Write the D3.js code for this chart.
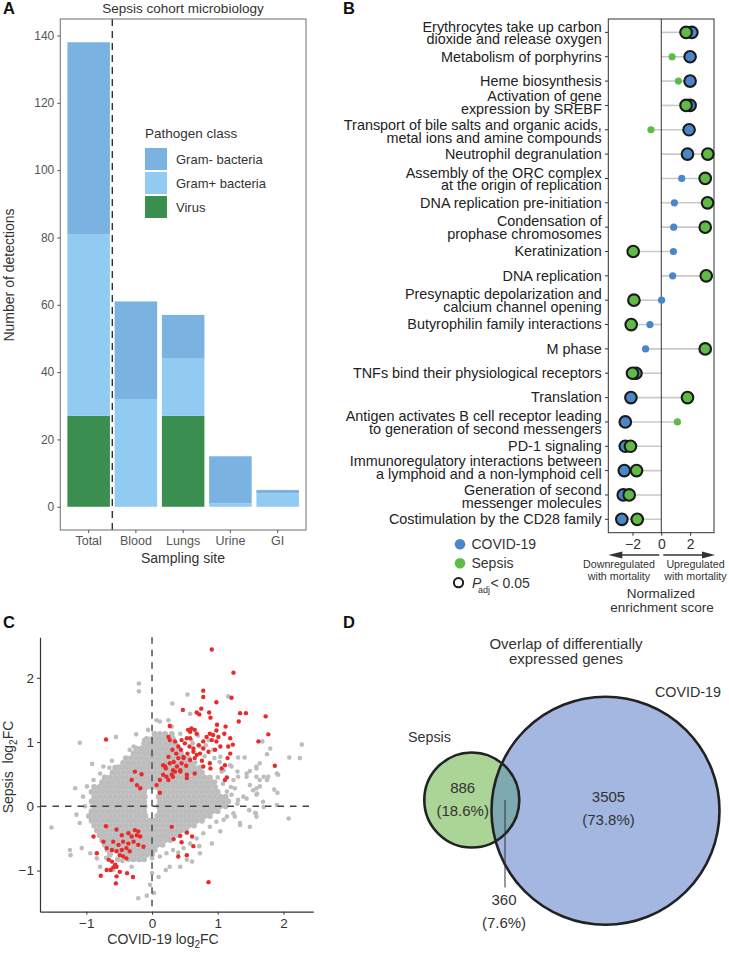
<!DOCTYPE html>
<html><head><meta charset="utf-8">
<script src="https://cdn.jsdelivr.net/npm/d3@7"></script>
<style>body{margin:0;background:#fff}svg{display:block}text{font-family:"Liberation Sans",Arial,Helvetica,sans-serif}</style>
</head><body><svg id="c" width="729" height="975"></svg>
<script>
// ---------- Panel A data ----------
const sites = ["Total","Blood","Lungs","Urine","GI"];
const virus = [27,0,27,0,0];
const gramPos = [54,32,17,1,4];
const gramNeg = [57,29,13,14,1];
const yTicksA = [0,20,40,60,80,100,120,140];
const pathogenClasses = ["Gram- bacteria","Gram+ bacteria","Virus"];

// ---------- Panel B data ----------
const pathways = [
 ["Erythrocytes take up carbon","dioxide and release oxygen"],
 ["Metabolism of porphyrins"],
 ["Heme biosynthesis"],
 ["Activation of gene","expression by SREBF"],
 ["Transport of bile salts and organic acids,","metal ions and amine compounds"],
 ["Neutrophil degranulation"],
 ["Assembly of the ORC complex","at the origin of replication"],
 ["DNA replication pre-initiation"],
 ["Condensation of","prophase chromosomes"],
 ["Keratinization"],
 ["DNA replication"],
 ["Presynaptic depolarization and","calcium channel opening"],
 ["Butyrophilin family interactions"],
 ["M phase"],
 ["TNFs bind their physiological receptors"],
 ["Translation"],
 ["Antigen activates B cell receptor leading","to generation of second messengers"],
 ["PD-1 signaling"],
 ["Immunoregulatory interactions between","a lymphoid and a non-lymphoid cell"],
 ["Generation of second","messenger molecules"],
 ["Costimulation by the CD28 family"]
];
const covidNES  = [2.12,2.0,2.0,2.0,1.93,1.82,1.42,0.91,0.86,0.84,0.79,0.02,-0.79,-1.09,-1.76,-2.11,-2.5,-2.5,-2.57,-2.64,-2.74];
const covidSig  = [1,1,1,1,1,1,0,0,0,0,0,0,0,0,1,1,1,1,1,1,1];
const sepsisNES = [1.72,0.75,1.19,1.72,-0.72,3.23,3.05,3.21,3.05,-1.95,3.12,-1.9,-2.09,3.05,-2.0,1.82,1.12,-2.14,-1.72,-2.23,-1.67];
const sepsisSig = [1,0,0,1,0,1,1,1,1,1,1,1,1,1,1,1,0,1,1,1,1];
const xTicksB = [-2,0,2];

// ---------- Panel C data ----------
const xTicksC = [-1,0,1,2];
const yTicksC = [-1,0,1,2];
const greyRows = [
 [1.125,[0.04,0.12,0.2,0.3]],
 [1.05,[-0.08,0,0.08,0.16,0.24,0.32]],
 [0.975,[-0.12,-0.04,0.04,0.12,0.2,0.28,0.36]],
 [0.9,[-0.24,-0.16,-0.08,0,0.08,0.16,0.24,0.32,0.4]],
 [0.825,[-0.28,-0.2,-0.12,-0.04,0.04,0.12,0.2,0.28,0.36,0.44]],
 [0.75,[-0.4,-0.32,-0.24,-0.16,-0.08,0,0.08,0.16,0.24,0.32,0.4,0.48,0.56]],
 [0.675,[-0.44,-0.36,-0.28,-0.2,-0.12,-0.04,0.04,0.12,0.2,0.28,0.36,0.44,0.52,0.6]],
 [0.6,[-0.56,-0.48,-0.4,-0.32,-0.24,-0.16,-0.08,0,0.08,0.16,0.24,0.32,0.4,0.48,0.56,0.64,0.72]],
 [0.525,[-0.6,-0.52,-0.44,-0.36,-0.28,-0.2,-0.12,-0.04,0.04,0.12,0.2,0.28,0.36,0.44,0.52,0.6,0.68,0.76]],
 [0.45,[-0.72,-0.64,-0.56,-0.48,-0.4,-0.32,-0.24,-0.16,-0.08,0,0.08,0.16,0.24,0.32,0.4,0.48,0.56,0.64,0.72,0.8,0.88]],
 [0.375,[-0.76,-0.68,-0.6,-0.52,-0.44,-0.36,-0.28,-0.2,-0.12,-0.04,0.04,0.12,0.2,0.28,0.36,0.44,0.52,0.6,0.68,0.76,0.84,0.92]],
 [0.3,[-0.88,-0.8,-0.72,-0.64,-0.56,-0.48,-0.4,-0.32,-0.24,-0.16,-0.08,0,0.08,0.16,0.24,0.32,0.4,0.48,0.56,0.64,0.72,0.8,0.88,0.96]],
 [0.225,[-0.92,-0.84,-0.76,-0.68,-0.6,-0.52,-0.44,-0.36,-0.28,-0.2,-0.12,0.12,0.2,0.28,0.36,0.44,0.52,0.6,0.68,0.76,0.84,0.92,1.0]],
 [0.15,[-0.88,-0.8,-0.72,-0.64,-0.56,-0.48,-0.4,-0.32,-0.24,-0.16,-0.11,0.1,0.16,0.24,0.32,0.4,0.48,0.56,0.64,0.72,0.8,0.88,0.96,1.04,1.12]],
 [0.075,[-0.92,-0.84,-0.76,-0.68,-0.6,-0.52,-0.44,-0.36,-0.28,-0.2,-0.12,0.12,0.2,0.28,0.36,0.44,0.52,0.6,0.68,0.76,0.84,0.92,1.0,1.08,1.16]],
 [0,[-0.88,-0.8,-0.72,-0.64,-0.56,-0.48,-0.4,-0.32,-0.24,-0.16,-0.11,0.1,0.16,0.24,0.32,0.4,0.48,0.56,0.64,0.72,0.8,0.88,0.96,1.04,1.12]],
 [-0.075,[-0.92,-0.84,-0.76,-0.68,-0.6,-0.52,-0.44,-0.36,-0.28,-0.2,-0.12,0.12,0.2,0.28,0.36,0.44,0.52,0.6,0.68,0.76,0.84,0.92,1.0]],
 [-0.15,[-0.96,-0.88,-0.8,-0.72,-0.64,-0.56,-0.48,-0.4,-0.32,-0.24,-0.16,-0.1,0.08,0.16,0.24,0.32,0.4,0.48,0.56,0.64,0.72,0.8,0.88]],
 [-0.225,[-0.92,-0.84,-0.76,-0.68,-0.6,-0.52,-0.44,-0.36,-0.28,-0.2,-0.12,-0.04,0.04,0.12,0.2,0.28,0.36,0.44,0.52,0.6,0.68,0.76]],
 [-0.3,[-0.88,-0.8,-0.72,-0.64,-0.56,-0.48,-0.4,-0.32,-0.24,-0.16,-0.08,0,0.08,0.16,0.24,0.32,0.4,0.48,0.56,0.64]],
 [-0.375,[-0.84,-0.76,-0.68,-0.6,-0.52,-0.44,-0.36,-0.28,-0.2,-0.12,-0.04,0.04,0.12,0.2,0.28,0.36,0.44,0.52]],
 [-0.45,[-0.8,-0.72,-0.64,-0.56,-0.48,-0.4,-0.32,-0.24,-0.16,-0.08,0,0.08,0.16,0.24,0.32,0.4]],
 [-0.525,[-0.76,-0.68,-0.6,-0.52,-0.44,-0.36,-0.28,-0.2,-0.12,-0.04,0.04,0.12,0.2,0.28]],
 [-0.6,[-0.72,-0.64,-0.56,-0.48,-0.4,-0.32,-0.24,-0.16,-0.08,0,0.08,0.16]],
 [-0.675,[-0.68,-0.6,-0.52,-0.44,-0.36,-0.28,-0.2,-0.12,-0.04,0.04]],
 [-0.75,[-0.64,-0.48,-0.4,-0.32,-0.24,-0.16,-0.08,0]],
 [-0.825,[-0.52,-0.36,-0.28,-0.2,-0.12]]
];
const greyOutliers = [
 [-0.20,1.91],[-0.20,1.79],[0.54,1.74],[0.31,1.60],[1.16,1.71],[-1.10,0.99],[-0.55,1.08],[-0.24,1.12],
 [-0.91,0.66],[-0.61,0.71],[-0.65,0.60],[-0.51,0.62],[-1.17,0.28],[-1.05,0.15],[-1.15,-0.13],[-1.10,-0.26],
 [-1.53,-0.33],[-1.25,-0.68],[-1.24,-0.76],[-1.07,-0.65],[-0.94,-0.73],[-0.84,-0.81],[-0.79,-0.94],[-0.59,-0.99],
 [-0.31,-0.94],[-0.18,-0.83],[-0.21,-1.43],[-0.08,-1.39],[-0.03,-1.22],[0.03,-1.35],[0.10,-1.10],[0.21,-0.99],
 [0.27,-0.94],[0.43,-0.94],[0.53,-0.83],[0.61,-0.86],[0.73,-0.73],[0.91,-0.58],[1.04,-0.39],[1.34,-0.29],
 [1.49,-0.32],[1.58,-0.11],[1.59,-0.16],[1.70,-0.01],[1.90,0.02],[2.08,-0.19],[1.86,0.26],[1.92,0.49],
 [1.75,0.41],[1.64,0.31],[1.54,0.25],[1.59,0.18],[1.44,0.12],[1.30,0.04],[1.26,0.28],[1.44,0.51],
 [1.59,0.59],[1.64,0.67],[1.75,0.81],[1.80,0.90],[1.70,0.46],[2.09,0.76],[2.25,0.75],[2.28,0.96],
 [1.31,0.76],[1.41,0.76],[1.19,0.64],[1.09,0.56],[1.24,0.41],[1.14,0.23],[1.31,0.46],[1.24,-0.11],
 [1.14,-0.16],[0.98,-0.24],[0.88,-0.32],[0.78,-0.42],[0.68,-0.50],[0.58,-0.58],[0.48,-0.65],[0.32,-0.68],
 [0.22,-0.73],[0.12,-0.78],[0.00,-0.81],[0.00,-1.04],[0.02,-0.63],[-1.02,0.0],[-0.99,0.31],[-0.89,0.41],
 [-0.79,0.51],[-0.74,0.62],[-0.34,0.88],[-0.28,0.93],[-0.12,1.03],[-0.06,1.19],[0.07,1.34],[0.12,1.32],
 [0.25,1.34],[0.30,1.24],[0.43,1.13],[0.60,1.03],[0.73,0.93],[0.86,1.03],[0.93,0.88],[1.04,0.77],
 [1.06,0.54],[0.58,1.44],[1.59,0.62],[1.68,1.01],[1.90,0.51],[1.49,0.55],[1.03,0.69],[1.21,0.62],
 [1.30,0.54],[1.44,0.46],[1.59,0.46],[1.64,0.41],[1.49,0.33],[1.59,0.28],[1.60,0.20],[1.69,0.07],
 [1.48,-0.06],[1.57,-0.10],[1.34,-0.26],[1.26,-0.16],[1.09,-0.21],[1.77,0.46],[1.91,0.21],[1.31,0.10],
 [1.39,0.15],[1.21,0.18],[0.62,0.98],[0.70,1.10],[0.82,0.95],[0.95,0.75],[0.80,0.78],[0.66,0.68],
 [1.00,0.45],[1.20,0.30],[1.08,0.35],[0.96,0.38],[0.72,-0.62],[0.40,-0.72],[-0.45,-0.85],[-0.70,-0.80]
];
const redPoints = [
 [0.91,2.44],[1.24,2.08],[0.78,1.80],[0.78,1.70],[0.98,1.62],[1.21,1.69],[0.47,1.50],[0.75,1.52],[0.68,1.46],
 [0.72,1.43],[0.87,1.46],[0.89,1.38],[1.34,1.45],[1.43,1.45],[1.32,1.32],[1.73,1.40],[1.77,1.12],[1.62,1.01],
 [1.87,0.63],[1.23,0.96],[1.12,1.24],[0.99,1.27],[-0.70,1.04],[0.27,1.25],
 [0.55,1.19],[0.60,1.21],[0.58,1.16],[0.65,1.19],[0.68,1.13],[0.45,1.03],[0.50,0.98],[0.53,1.06],[0.58,1.06],
 [0.57,0.93],[0.63,0.90],[0.71,0.95],[0.78,1.01],[0.83,1.08],[0.88,1.13],[0.93,1.11],[0.98,1.18],[1.01,1.08],
 [0.91,1.03],[0.98,1.01],[1.04,0.93],[0.96,0.88],[0.86,0.85],[0.78,0.90],[0.73,0.82],[0.68,0.80],[0.63,0.85],
 [0.54,0.82],[0.48,0.77],[0.44,0.88],[0.40,0.93],[0.37,0.82],[0.31,0.88],[0.27,1.03],[0.25,1.08],[0.35,1.01],
 [0.40,0.75],[0.48,0.75],[0.45,0.67],[0.52,0.63],[0.58,0.72],[0.65,0.75],[0.76,0.71],[0.78,0.62],[0.88,0.67],
 [0.89,0.59],[1.11,0.64],[1.16,0.93],[1.19,1.06],[1.10,1.13],[1.15,0.75],[0.38,0.62],[0.32,0.56],[0.43,0.56],
 [0.20,0.62],[0.17,0.64],[0.27,0.67],[0.33,0.69],[0.25,0.77],[0.22,0.46],[0.30,0.49],[0.35,0.54],[0.53,0.49],
 [0.65,0.51],[1.14,0.45],[1.06,0.59],[1.19,0.82],[0.21,0.59],[0.17,0.49],[0.12,0.41],[0.25,0.41],[0.32,0.46],
 [0.07,0.33],[0.43,0.54],[0.53,0.44],[1.11,0.41],
 [-0.26,0.54],[-0.16,0.50],[-0.23,0.33],[-0.18,0.28],[-0.31,0.41],
 [-0.70,-0.31],[-0.89,-0.47],[-0.54,-0.36],[-0.46,-0.45],[-0.36,-0.42],[-0.26,-0.37],[-0.23,-0.45],[-0.18,-0.47],
 [-0.21,-0.39],[-0.74,-0.55],[-0.59,-0.55],[-0.51,-0.60],[-0.44,-0.55],[-0.36,-0.58],[-0.28,-0.55],[-0.21,-0.60],
 [-0.69,-0.65],[-0.61,-0.68],[-0.54,-0.70],[-0.46,-0.68],[-0.39,-0.65],[-0.34,-0.70],[-0.44,-0.78],[-0.39,-0.81],
 [-0.49,-0.76],[-0.66,-0.83],[-0.61,-0.86],[-0.56,-0.91],[-0.54,-0.94],[-0.59,-0.95],[-0.63,-0.99],[-0.69,-0.99],
 [-0.49,-1.02],[-0.38,-1.04],[-0.78,-1.08],[-0.54,-1.09],[-0.29,-1.10],[-0.55,-1.20],[-0.84,-0.73],[-0.31,-0.47],
 [-0.13,-0.63],
 [0.30,-0.32],[0.33,-0.51],[0.43,-0.46],[0.45,-0.56],[0.53,-0.41],[0.61,-0.47],[0.63,-0.62],[0.40,-0.78],
 [0.53,-0.76],[0.86,-1.18],[0.12,0.21]
];

// ---------- Panel D data ----------
const vennSets = ["Sepsis","COVID-19"];
const vennCounts = [886, 3505, 360];
const vennPercents = ["(18.6%)","(73.8%)","(7.6%)"];

// ================= drawing =================
const svg = d3.select("#c");
svg.append("rect").attr("width",729).attr("height",975).attr("fill","#fff");
const FONT = '"Liberation Sans",Arial,Helvetica,sans-serif';

function panelLabel(t,x,y){
  svg.append("text").attr("x",x).attr("y",y).attr("font-size",16.5).attr("font-weight","bold").attr("fill","#111").text(t);
}
panelLabel("A",3,14); panelLabel("B",343,14); panelLabel("C",3,628); panelLabel("D",343,628);

// ---------- Panel A ----------
(function(){
  const g = svg.append("g");
  const x = d3.scaleBand().domain(sites).range([60.3,306]).paddingInner(0.1).paddingOuter(0.15);
  const y = d3.scaleLinear().domain([-6.9,144.9]).range([530,19]);
  const colors = {Virus:"#3a8e4f", GramPos:"#92cbf1", GramNeg:"#7ab3e1"};
  const rows = sites.map((s,i)=>({site:s,Virus:virus[i],GramPos:gramPos[i],GramNeg:gramNeg[i]}));
  const series = d3.stack().keys(["Virus","GramPos","GramNeg"])(rows);
  series.forEach(sr=>{
    g.selectAll(null).data(sr).enter().append("rect")
      .attr("x",d=>x(d.data.site)).attr("width",x.bandwidth())
      .attr("y",d=>y(d[1])).attr("height",d=>Math.max(0,y(d[0])-y(d[1])))
      .attr("fill",colors[sr.key]);
  });
  const xs = x("Total")+x.bandwidth()+x.step()*x.paddingInner()/2;
  g.append("line").attr("x1",xs).attr("x2",xs).attr("y1",19).attr("y2",530)
    .attr("stroke","#222").attr("stroke-width",1.3).attr("stroke-dasharray","7,5");
  g.append("rect").attr("x",60.3).attr("y",19).attr("width",245.7).attr("height",511)
    .attr("fill","none").attr("stroke","#7a7a7a").attr("stroke-width",1.1);
  const ya = g.append("g").attr("transform","translate(60.3,0)")
    .call(d3.axisLeft(y).tickValues(yTicksA).tickSize(3).tickPadding(3));
  ya.select(".domain").remove();
  ya.selectAll("line").attr("stroke","#555");
  ya.selectAll("text").attr("font-size",12).attr("fill","#555").attr("font-family",FONT);
  const xa = g.append("g").attr("transform","translate(0,530)")
    .call(d3.axisBottom(x).tickSize(3).tickPadding(3));
  xa.select(".domain").remove();
  xa.selectAll("line").attr("stroke","#555");
  xa.selectAll("text").attr("font-size",12.5).attr("fill","#555").attr("font-family",FONT);
  g.append("text").attr("x",183).attr("y",13).attr("text-anchor","middle").attr("font-size",13.5).attr("fill","#333").text("Sepsis cohort microbiology");
  g.append("text").attr("x",183).attr("y",563).attr("text-anchor","middle").attr("font-size",14).attr("fill","#333").text("Sampling site");
  g.append("text").attr("transform","translate(14,275) rotate(-90)").attr("text-anchor","middle").attr("font-size",14).attr("fill","#333").text("Number of detections");
  g.append("text").attr("x",145).attr("y",138).attr("font-size",13.5).attr("fill","#333").text("Pathogen class");
  const lc = ["#7ab3e1","#92cbf1","#3a8e4f"];
  pathogenClasses.forEach((c,i)=>{
    g.append("rect").attr("x",145).attr("y",148+i*24).attr("width",22).attr("height",22).attr("fill",lc[i]);
    g.append("text").attr("x",176).attr("y",163.5+i*24).attr("font-size",13).attr("fill","#333").text(c);
  });
})();

// ---------- Panel B ----------
(function(){
  const g = svg.append("g");
  const x = d3.scaleLinear().domain([-3.68,3.66]).range([608.3,714]);
  const y = d3.scalePoint().domain(d3.range(pathways.length)).range([19,532.7]).padding(0.55);
  const blue = "#4a87c9", green = "#5fbb46";
  pathways.forEach((p,i)=>{
    const lo = Math.min(0,covidNES[i],sepsisNES[i]), hi = Math.max(0,covidNES[i],sepsisNES[i]);
    g.append("line").attr("x1",x(lo)).attr("x2",x(hi)).attr("y1",y(i)).attr("y2",y(i)).attr("stroke","#c9c9c9").attr("stroke-width",1.6);
  });
  g.append("line").attr("x1",x(0)).attr("x2",x(0)).attr("y1",19).attr("y2",532.7).attr("stroke","#333").attr("stroke-width",1);
  g.append("rect").attr("x",608.3).attr("y",19).attr("width",714-608.3).attr("height",532.7-19).attr("fill","none").attr("stroke","#333").attr("stroke-width",1);
  function dots(vals,sig,col){
    g.selectAll(null).data(vals).enter().append("circle")
      .attr("cx",d=>x(d)).attr("cy",(d,i)=>y(i))
      .attr("r",(d,i)=>sig[i]?5.8:3.6).attr("fill",col)
      .attr("stroke",(d,i)=>sig[i]?"#1a1a1a":"none").attr("stroke-width",2.1);
  }
  dots(covidNES,covidSig,blue);
  dots(sepsisNES,sepsisSig,green);
  pathways.forEach((p,i)=>{
    g.append("line").attr("x1",605).attr("x2",608.3).attr("y1",y(i)).attr("y2",y(i)).attr("stroke","#333");
    const t = g.append("text").attr("text-anchor","end").attr("font-size",14.4).attr("fill","#222");
    if(p.length===1){ t.attr("x",601.7).attr("y",y(i)+4.8).text(p[0]); }
    else {
      // keep consecutive two-line labels from colliding
      let off = 0;
      if(pathways[i+1] && pathways[i+1].length>1) off -= 3.5;
      if(pathways[i-1] && pathways[i-1].length>1) off += 1.2;
      t.append("tspan").attr("x",601.7).attr("y",y(i)-0.8+off).text(p[0]);
      t.append("tspan").attr("x",601.7).attr("y",y(i)+11.8+off).text(p[1]);
    }
  });
  const xa = g.append("g").attr("transform","translate(0,532.7)").call(d3.axisBottom(x).tickValues(xTicksB).tickSize(3).tickPadding(3).tickFormat(d3.format("d")));
  xa.select(".domain").remove();
  xa.selectAll("line").attr("stroke","#333");
  xa.selectAll("text").attr("font-size",14).attr("fill","#333").attr("font-family",FONT);
  const ay = 555;
  g.append("line").attr("x1",x(0)-2).attr("x2",x.range()[0]+10).attr("y1",ay).attr("y2",ay).attr("stroke","#333").attr("stroke-width",1.5);
  g.append("path").attr("d",`M${x.range()[0]},${ay} l14,-3.6 l0,7.2 z`).attr("fill","#333");
  g.append("line").attr("x1",x(0)+2).attr("x2",x.range()[1]-10).attr("y1",ay).attr("y2",ay).attr("stroke","#333").attr("stroke-width",1.5);
  g.append("path").attr("d",`M${x.range()[1]+1},${ay} l-13,-3.6 l0,7.2 z`).attr("fill","#333");
  const sm = (tx,xx,yy)=>g.append("text").attr("x",xx).attr("y",yy).attr("text-anchor","middle").attr("font-size",10.7).attr("fill","#333").text(tx);
  sm("Downregulated",619,568); sm("with mortality",619,579.5);
  sm("Upregulated",695.5,568); sm("with mortality",695.5,579.5);
  g.append("text").attr("x",661).attr("y",598).attr("text-anchor","middle").attr("font-size",13.5).attr("fill","#333").text("Normalized");
  g.append("text").attr("x",662).attr("y",611.5).attr("text-anchor","middle").attr("font-size",13.5).attr("fill","#333").text("enrichment score");
  g.append("circle").attr("cx",460).attr("cy",544.3).attr("r",5.3).attr("fill",blue);
  g.append("text").attr("x",471.5).attr("y",549.3).attr("font-size",14).attr("fill","#333").text("COVID-19");
  g.append("circle").attr("cx",460).attr("cy",563.3).attr("r",5.3).attr("fill",green);
  g.append("text").attr("x",471.5).attr("y",568.3).attr("font-size",14).attr("fill","#333").text("Sepsis");
  g.append("circle").attr("cx",458.5).attr("cy",582.7).attr("r",4.6).attr("fill","none").attr("stroke","#1a1a1a").attr("stroke-width",2);
  const pt = g.append("text").attr("x",472).attr("y",587.7).attr("font-size",14).attr("fill","#333");
  pt.append("tspan").attr("font-style","italic").text("P");
  pt.append("tspan").attr("font-size",9).attr("dy",5).attr("x",478).text("adj");
  pt.append("tspan").attr("dy",-5).attr("x",490.5).text("< 0.05");
})();

// ---------- Panel C ----------
(function(){
  const g = svg.append("g");
  const x = d3.scaleLinear().domain([-1.705,2.455]).range([40,313.3]);
  const y = d3.scaleLinear().domain([-1.64,2.63]).range([911.7,637.3]);
  const cloud = [];
  greyRows.forEach(r=>r[1].forEach(xv=>cloud.push([xv,r[0]])));
  g.selectAll(null).data(cloud).enter().append("circle")
    .attr("cx",d=>x(d[0])).attr("cy",d=>y(d[1])).attr("r",2.95).attr("fill","#bdbdbd");
  g.selectAll(null).data(greyOutliers).enter().append("circle")
    .attr("cx",d=>x(d[0])).attr("cy",d=>y(d[1])).attr("r",2.3).attr("fill","#bdbdbd");
  g.append("line").attr("x1",x(0)).attr("x2",x(0)).attr("y1",637.3).attr("y2",911.7).attr("stroke","#444").attr("stroke-width",1.4).attr("stroke-dasharray","6.5,6");
  g.append("line").attr("x1",40).attr("x2",313.3).attr("y1",y(0)).attr("y2",y(0)).attr("stroke","#444").attr("stroke-width",1.4).attr("stroke-dasharray","6.5,6");
  g.selectAll(null).data(redPoints).enter().append("circle")
    .attr("cx",d=>x(d[0])).attr("cy",d=>y(d[1])).attr("r",2.2).attr("fill","#ea2a2a");
  const ya = g.append("g").attr("transform","translate(40,0)").call(d3.axisLeft(y).tickValues(yTicksC).tickSize(3).tickSizeOuter(0).tickPadding(3).tickFormat(d3.format("d")));
  ya.select(".domain").attr("stroke","#333").attr("stroke-width",1.2);
  ya.selectAll(".tick line").attr("stroke","#333");
  ya.selectAll("text").attr("font-size",13.5).attr("fill","#333").attr("font-family",FONT);
  const xa = g.append("g").attr("transform","translate(0,911.7)").call(d3.axisBottom(x).tickValues(xTicksC).tickSize(3).tickSizeOuter(0).tickPadding(4).tickFormat(d3.format("d")));
  xa.select(".domain").attr("stroke","#333").attr("stroke-width",1.2);
  xa.selectAll(".tick line").attr("stroke","#333");
  xa.selectAll("text").attr("font-size",13.5).attr("fill","#333").attr("font-family",FONT);
  const xt = g.append("text").attr("x",163).attr("y",944).attr("text-anchor","middle").attr("font-size",14).attr("fill","#333");
  xt.append("tspan").text("COVID-19 log");
  xt.append("tspan").attr("font-size",10).attr("dy",4).text("2");
  xt.append("tspan").attr("dy",-4).text("FC");
  const yt = g.append("text").attr("transform","translate(12.5,767) rotate(-90)").attr("text-anchor","middle").attr("font-size",14).attr("fill","#333");
  yt.append("tspan").text("Sepsis\u00A0 log");
  yt.append("tspan").attr("font-size",10).attr("dy",4).text("2");
  yt.append("tspan").attr("dy",-4).text("FC");
})();

// ---------- Panel D ----------
(function(){
  const g = svg.append("g");
  const sep = {cx:471.8, cy:800, r:47.5}, cov = {cx:605.5, cy:810.8, r:114};
  const defs = svg.append("defs");
  defs.append("clipPath").attr("id","covClip").append("circle").attr("cx",cov.cx).attr("cy",cov.cy).attr("r",cov.r);
  g.append("circle").attr("cx",cov.cx).attr("cy",cov.cy).attr("r",cov.r).attr("fill","#a3b7e0");
  g.append("circle").attr("cx",sep.cx).attr("cy",sep.cy).attr("r",sep.r).attr("fill","#abd497");
  g.append("circle").attr("cx",sep.cx).attr("cy",sep.cy).attr("r",sep.r).attr("fill","#7fa9b1").attr("clip-path","url(#covClip)");
  g.append("circle").attr("cx",cov.cx).attr("cy",cov.cy).attr("r",cov.r).attr("fill","none").attr("stroke","#222").attr("stroke-width",2.6);
  g.append("circle").attr("cx",sep.cx).attr("cy",sep.cy).attr("r",sep.r).attr("fill","none").attr("stroke","#222").attr("stroke-width",2.6);
  const t = (tx,xx,yy,fs)=>g.append("text").attr("x",xx).attr("y",yy).attr("text-anchor","middle").attr("font-size",fs).attr("fill","#333").text(tx);
  t("Overlap of differentially",566,648.5,15);
  t("expressed genes",566,664,15);
  t(vennSets[0],429.5,742,14.3);
  t(vennSets[1],688,697.3,14.3);
  t(String(vennCounts[0]),462.7,793.3,15); t(vennPercents[0],462.7,815.5,15);
  t(String(vennCounts[1]),608.5,801.7,15); t(vennPercents[1],608.5,824.5,15);
  t(String(vennCounts[2]),504,905,15); t(vennPercents[2],504,927.5,15);
  g.append("line").attr("x1",505).attr("x2",505).attr("y1",800).attr("y2",887.5).attr("stroke","#333").attr("stroke-width",1);
})();
</script></body></html>
